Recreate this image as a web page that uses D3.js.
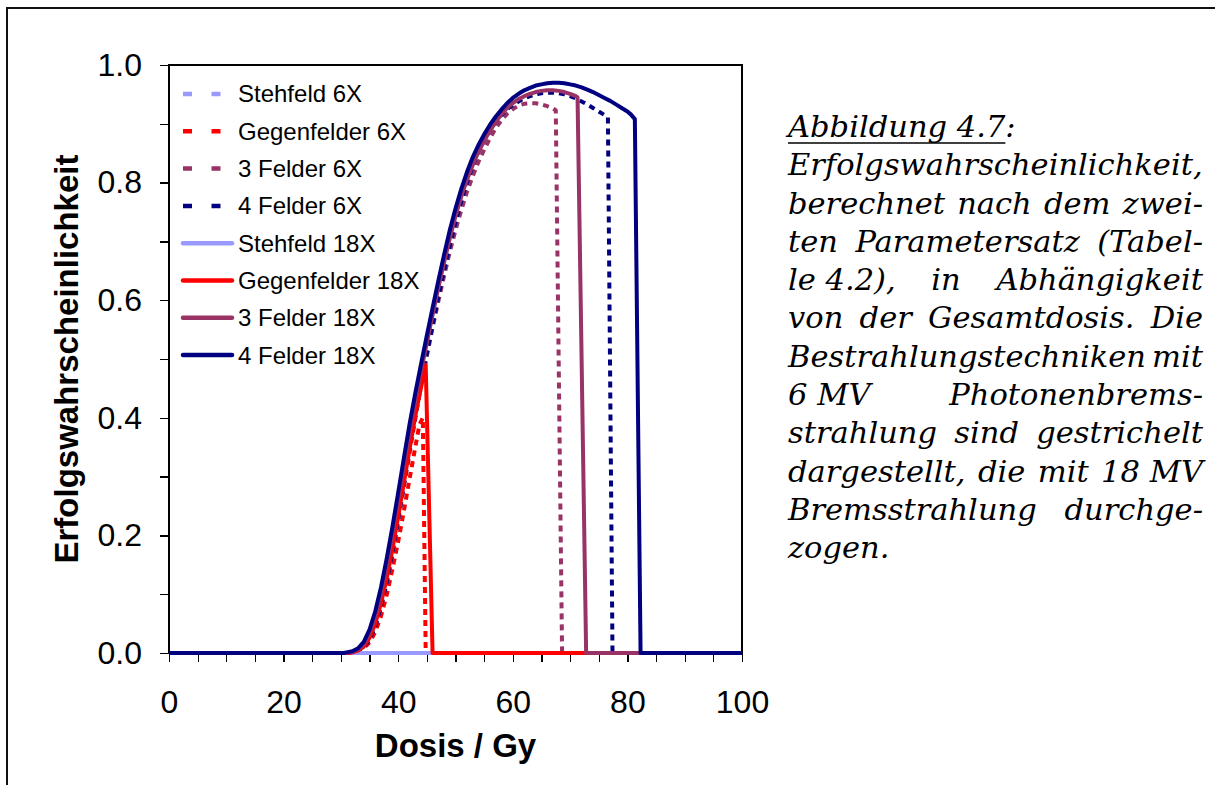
<!DOCTYPE html>
<html lang="de">
<head>
<meta charset="utf-8">
<title>Erfolgswahrscheinlichkeit</title>
<script src="https://cdn.jsdelivr.net/npm/d3@7"></script>
<style>
  body { margin: 0; background: #fff; }
  .axis path, .axis line { stroke: #000; stroke-width: 1.3; shape-rendering: crispEdges; }
  .axis text { font-family: Arial, "Liberation Sans", sans-serif; font-size: 32px; fill: #000; }
  .title { font-family: Arial, "Liberation Sans", sans-serif; font-weight: bold; font-size: 33px; fill: #000; }
  .legend text { font-family: Arial, "Liberation Sans", sans-serif; font-size: 24px; fill: #000; }
  .caption text { font-family: "DejaVu Serif", serif; font-style: italic; font-size: 29px; fill: #000; }
</style>
</head>
<body>
<script>

// series names (legend order = drawing order)
var names = ["Stehfeld 6X", "Gegenfelder 6X", "3 Felder 6X", "4 Felder 6X",
             "Stehfeld 18X", "Gegenfelder 18X", "3 Felder 18X", "4 Felder 18X"];
var colors = ["#9999ff", "#ff0000", "#993366", "#000080",
              "#9999ff", "#ff0000", "#993366", "#000080"];
var dashed = [true, true, true, true, false, false, false, false];

// [Dosis (Gy), Erfolgswahrscheinlichkeit]
var stehfeld6 = [[0,0],[100,0]];
var gegen6 = [[0,0],[32,0],[33,0.003],[34,0.008],[35,0.018],[36,0.036],[37,0.063],[38,0.099],
  [39,0.143],[40,0.19],[41,0.242],[42,0.297],[43,0.351],[43.7,0.388],[44.3,0.4],
  [44.8,0],[100,0]];
var drei6 = [[0,0],[31.5,0],[32,0.001],[33,0.004],[34,0.01],[35,0.023],[36,0.045],[37,0.078],
  [38,0.118],[39,0.168],[40,0.224],[41,0.282],[42,0.341],[43,0.399],[44,0.456],[45,0.505],
  [46,0.553],[47,0.598],[48,0.641],[49,0.682],[50,0.719],[51,0.753],[52,0.784],[53,0.811],
  [54,0.835],[55,0.856],[56,0.875],[57,0.892],[58,0.906],[59,0.917],[60,0.925],[61,0.931],
  [62,0.934],[63,0.935],[64,0.935],[65,0.933],[66,0.93],[67,0.926],[67.5,0.923],[68.6,0],[100,0]];
var vier6 = [[0,0],[31.5,0],[32,0.001],[33,0.004],[34,0.01],[35,0.023],[36,0.045],[37,0.079],
  [38,0.121],[39,0.172],[40,0.228],[41,0.288],[42,0.348],[43,0.404],[44,0.459],[45,0.509],
  [46,0.558],[47,0.605],[48,0.65],[49,0.693],[50,0.732],[51,0.768],[52,0.8],[53,0.828],
  [54,0.852],[55,0.872],[56,0.889],[57,0.903],[58,0.915],[59,0.925],[60,0.932],[61,0.938],
  [62,0.943],[63,0.947],[64,0.95],[65,0.952],[66,0.953],[67,0.953],[68,0.952],[69,0.95],
  [70,0.947],[71,0.943],[72,0.938],[73,0.933],[74,0.927],[75,0.921],[76,0.915],[76.6,0.911],
  [77.4,0],[100,0]];
var stehfeld18 = [[0,0],[100,0]];
var gegen18 = [[0,0],[31.5,0],[32,0.001],[33,0.004],[34,0.011],[35,0.026],[36,0.05],[37,0.085],
  [38,0.127],[39,0.177],[40,0.232],[41,0.29],[42,0.348],[43,0.404],[44,0.452],[44.8,0.49],
  [46,0],[100,0]];
var drei18 = [[0,0],[31,0],[32,0.002],[33,0.006],[34,0.015],[35,0.034],[36,0.062],[37,0.1],
  [38,0.148],[39,0.203],[40,0.26],[41,0.319],[42,0.377],[43,0.43],[44,0.48],[45,0.528],
  [46,0.575],[47,0.621],[48,0.664],[49,0.705],[50,0.743],[51,0.776],[52,0.805],[53,0.83],
  [54,0.852],[55,0.871],[56,0.888],[57,0.903],[58,0.916],[59,0.927],[60,0.935],
  [61,0.942],[62,0.947],[63,0.951],[64,0.954],[65,0.956],[66,0.957],[67,0.957],[68,0.956],
  [69,0.954],[70,0.951],[71,0.947],[71.3,0.945],[72.8,0],[100,0]];
var vier18 = [[0,0],[30.5,0],[31,0.001],[32,0.003],[33,0.008],[34,0.019],[35,0.04],[36,0.071],
  [37,0.112],[38,0.161],[39,0.215],[40,0.273],[41,0.332],[42,0.39],[43,0.443],[44,0.492],
  [45,0.54],[46,0.587],[47,0.633],[48,0.677],[49,0.719],[50,0.756],[51,0.789],[52,0.818],
  [53,0.843],[54,0.864],[55,0.882],[56,0.898],[57,0.912],[58,0.924],[59,0.935],[60,0.944],
  [61,0.951],[62,0.957],[63,0.961],[64,0.965],[65,0.967],[66,0.969],[67,0.97],[68,0.97],
  [69,0.969],[70,0.967],[71,0.965],[72,0.962],[73,0.958],[74,0.954],[75,0.949],[76,0.944],
  [77,0.939],[78,0.933],[79,0.927],[80,0.921],[80.6,0.916],[81.3,0.908],[82.3,0],[100,0]];

var seriesData = [stehfeld6, gegen6, drei6, vier6, stehfeld18, gegen18, drei18, vier18];

var xTicks = d3.range(0, 101, 5);
var yTicks = d3.range(0, 1.001, 0.1);

// caption lines, true = justified
var captionLines = ["Erfolgswahrscheinlichkeit,", "berechnet nach dem zwei-",
  "ten Parametersatz (Tabel-", "le\u00a04.2), in Abhängigkeit", "von der Gesamtdosis. Die",
  "Bestrahlungstechniken mit", "6\u00a0MV Photonenbrems-", "strahlung sind gestrichelt",
  "dargestellt, die mit 18\u00a0MV", "Bremsstrahlung durchge-", "zogen."];
var captionJustify = [false, true, true, true, true, true, true, true, true, true, false];

var W = 1215, H = 785;
var pLeft = 169, pRight = 742, pTop = 65, pBottom = 653;

var svg = d3.select("body").append("svg")
    .attr("width", W)
    .attr("height", H);

// outer frame (top and left only)
svg.append("path")
   .attr("d", "M7,785 L7,8 L1215,8")
   .attr("fill", "none")
   .attr("stroke", "#111")
   .attr("stroke-width", 2);

var xScale = d3.scaleLinear().domain([0, 100]).range([pLeft, pRight]);
var yScale = d3.scaleLinear().domain([0, 1]).range([pBottom, pTop]);

// plot frame
svg.append("rect")
   .attr("x", pLeft).attr("y", pTop)
   .attr("width", pRight - pLeft).attr("height", pBottom - pTop)
   .attr("fill", "none")
   .attr("stroke", "#000")
   .attr("stroke-width", 1.3)
   .attr("shape-rendering", "crispEdges");

var xAxis = d3.axisBottom(xScale)
    .tickValues(xTicks)
    .tickSize(9)
    .tickSizeOuter(0)
    .tickPadding(28)
    .tickFormat(function(d) { return d % 20 === 0 ? d : ""; });

var yAxis = d3.axisLeft(yScale)
    .tickValues(yTicks)
    .tickSize(9)
    .tickSizeOuter(0)
    .tickPadding(18)
    .tickFormat(function(d) { return Math.round(d * 10) % 2 === 0 ? d3.format(".1f")(d) : ""; });

svg.append("g")
   .attr("class", "axis")
   .attr("transform", "translate(0," + pBottom + ")")
   .call(xAxis);

svg.append("g")
   .attr("class", "axis")
   .attr("transform", "translate(" + pLeft + ",0)")
   .call(yAxis);

// curves
var line = d3.line()
    .x(function(d) { return xScale(d[0]); })
    .y(function(d) { return yScale(d[1]); });

svg.append("g")
   .selectAll("path")
   .data(seriesData)
   .enter()
   .append("path")
   .attr("d", line)
   .attr("fill", "none")
   .attr("stroke", function(d, i) { return colors[i]; })
   .attr("stroke-width", 4)
   .attr("stroke-linejoin", "round")
   .attr("stroke-dasharray", function(d, i) { return dashed[i] ? "6,5" : null; });

// axis titles
svg.append("text")
   .attr("class", "title")
   .attr("x", (pLeft + pRight) / 2)
   .attr("y", 757)
   .attr("text-anchor", "middle")
   .text("Dosis / Gy");

svg.append("text")
   .attr("class", "title")
   .attr("transform", "translate(78," + (pTop + pBottom) / 2 + ") rotate(-90)")
   .attr("text-anchor", "middle")
   .text("Erfolgswahrscheinlichkeit");

// legend
var legend = svg.append("g")
    .attr("class", "legend")
    .selectAll("g")
    .data(names)
    .enter()
    .append("g")
    .attr("transform", function(d, i) { return "translate(0," + (94 + i * 37.3) + ")"; });

legend.append("line")
   .attr("x1", 183).attr("x2", 232)
   .attr("stroke", function(d, i) { return colors[i]; })
   .attr("stroke-width", 4.5)
   .attr("stroke-linecap", function(d, i) { return dashed[i] ? "butt" : "round"; })
   .attr("stroke-dasharray", function(d, i) { return dashed[i] ? "9,19.5" : null; });

legend.append("text")
   .attr("x", 238)
   .attr("dy", "0.35em")
   .text(function(d) { return d; });

// caption at the right, justified block
var capX = 788, capW = 415, capBase = 137, capStep = 38.3;
var cap = svg.append("g").attr("class", "caption");

// stretch horizontally so that the widest line fills the column
var probe = cap.append("text").text(captionLines[0]);
var maxW = probe.node().getComputedTextLength();
probe.remove();
var sx = capW / maxW;
var body = cap.append("g").attr("transform", "translate(" + capX + ",0) scale(" + sx + ",1)");
var innerW = capW / sx;

var head = body.append("text").attr("x", 0).attr("y", capBase);
var headMain = head.append("tspan").text("Abbildung\u00a04.7");
head.append("tspan").text(":");
var headW = headMain.node().getComputedTextLength();
body.append("line")
   .attr("x1", 0).attr("x2", headW)
   .attr("y1", capBase + 6).attr("y2", capBase + 6)
   .attr("stroke", "#000").attr("stroke-width", 1.6);

captionLines.forEach(function(str, i) {
  var words = str.split(" ");
  var t = body.append("text").attr("y", capBase + (i + 1) * capStep);
  var spans = words.map(function(w) { return t.append("tspan").text(w); });
  var widths = spans.map(function(s) { return s.node().getComputedTextLength(); });
  var total = d3.sum(widths);
  var gap = (captionJustify[i] && words.length > 1) ? (innerW - total) / (words.length - 1) : 8;
  var xPos = 0;
  spans.forEach(function(s, k) {
    s.attr("x", xPos);
    xPos += widths[k] + gap;
  });
});

</script>
</body>
</html>
